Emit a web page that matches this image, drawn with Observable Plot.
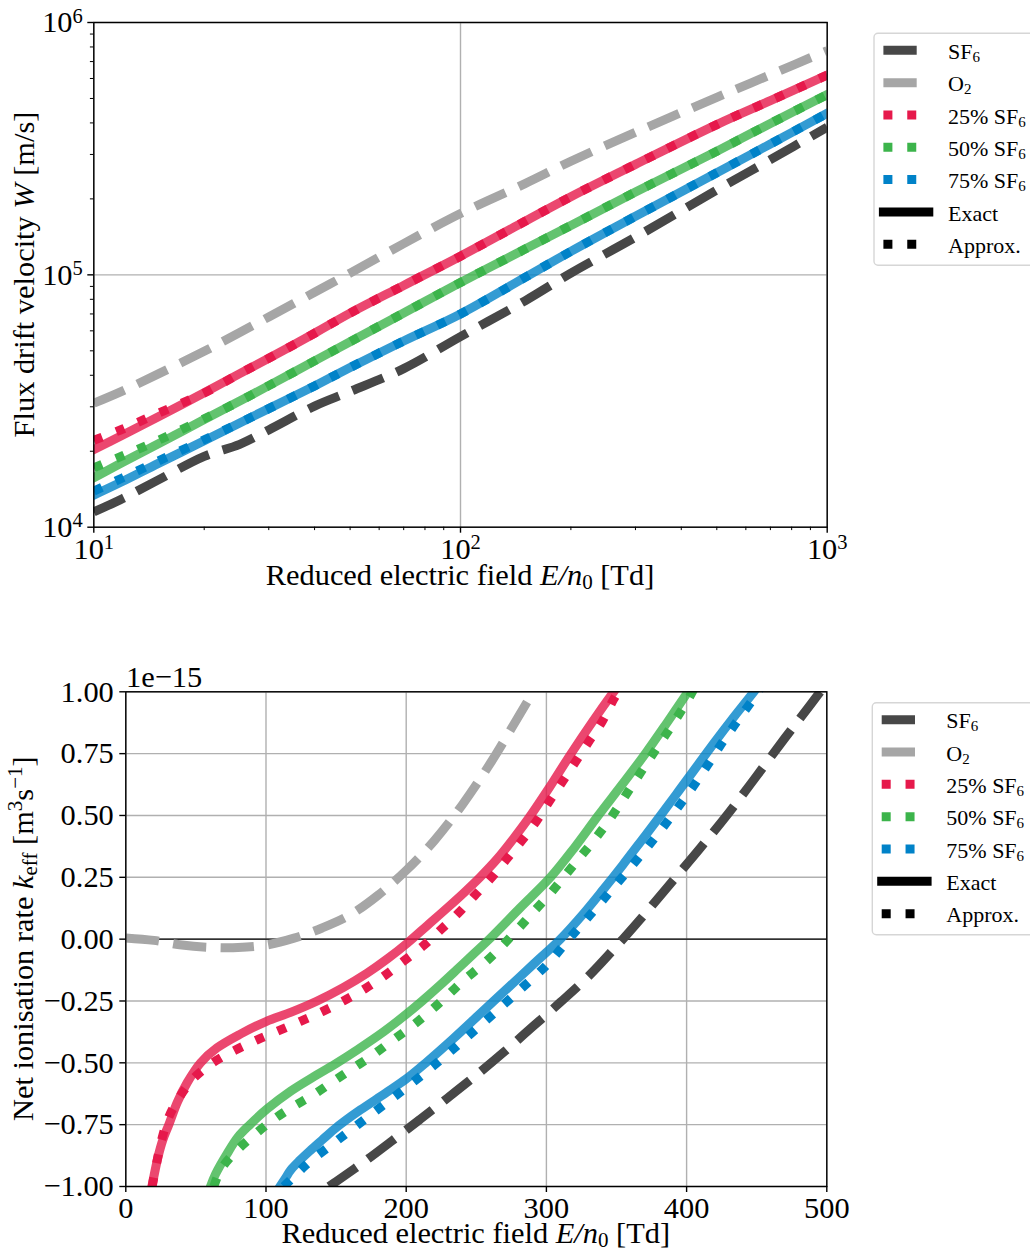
<!DOCTYPE html>
<html>
<head>
<meta charset="utf-8">
<script src="https://cdn.jsdelivr.net/npm/d3@7"></script>
<script src="https://cdn.jsdelivr.net/npm/@observablehq/plot@0.6"></script>
<style>
  html, body { margin: 0; padding: 0; background: #fff; }
  #figure { width: 1030px; height: 1250px; position: relative; overflow: hidden; background: #fff; }
  #figure svg { display: block; position: absolute; left: 0; overflow: hidden; }
  #figure text { white-space: pre; }
</style>
</head>
<body>
<div id="figure"></div>
<script>
// ---------- Flux drift velocity W [m/s] vs reduced field E/n0 [Td] ----------
const fieldTd = [10, 12, 15, 20, 25, 30, 40, 50, 70, 100, 150, 200, 300, 500, 700, 1000];
const driftSF6 = [1.15e4, 1.30e4, 1.54e4, 1.91e4, 2.13e4, 2.43e4, 3.02e4, 3.45e4, 4.25e4, 5.69e4, 7.89e4, 1.016e5, 1.41e5, 2.17e5, 2.86e5, 3.85e5];
const driftO2 = [3.10e4, 3.47e4, 4.05e4, 4.98e4, 5.91e4, 6.81e4, 8.53e4, 1.016e5, 1.33e5, 1.75e5, 2.30e5, 2.82e5, 3.67e5, 5.05e5, 6.21e5, 7.74e5];
const drift25Exact = [2.03e4, 2.32e4, 2.74e4, 3.41e4, 4.06e4, 4.67e4, 5.87e4, 7.05e4, 9.08e4, 1.186e5, 1.63e5, 2.04e5, 2.74e5, 3.94e5, 4.90e5, 6.19e5];
const drift25Approx = [2.21e4, 2.45e4, 2.83e4, 3.40e4, 4.06e4, 4.67e4, 5.87e4, 7.05e4, 9.08e4, 1.186e5, 1.63e5, 2.04e5, 2.74e5, 3.94e5, 4.90e5, 6.19e5];
const drift50Exact = [1.57e4, 1.81e4, 2.14e4, 2.67e4, 3.16e4, 3.64e4, 4.56e4, 5.43e4, 7.06e4, 9.33e4, 1.265e5, 1.57e5, 2.13e5, 3.09e5, 3.98e5, 5.18e5];
const drift50Approx = [1.72e4, 1.92e4, 2.21e4, 2.69e4, 3.16e4, 3.64e4, 4.56e4, 5.43e4, 7.06e4, 9.33e4, 1.265e5, 1.57e5, 2.13e5, 3.09e5, 3.98e5, 5.18e5];
const drift75Exact = [1.34e4, 1.52e4, 1.79e4, 2.20e4, 2.59e4, 2.95e4, 3.63e4, 4.29e4, 5.47e4, 7.00e4, 9.77e4, 1.239e5, 1.706e5, 2.54e5, 3.30e5, 4.37e5];
const drift75Approx = [1.39e4, 1.57e4, 1.83e4, 2.22e4, 2.59e4, 2.95e4, 3.63e4, 4.29e4, 5.47e4, 7.00e4, 9.77e4, 1.239e5, 1.706e5, 2.54e5, 3.30e5, 4.37e5];

const logMajorX = [10, 100, 1000];
const logMinorX = [20, 30, 40, 50, 60, 70, 80, 90, 200, 300, 400, 500, 600, 700, 800, 900];
const logMajorY = [1e4, 1e5, 1e6];
const logMinorY = [2e4, 3e4, 4e4, 5e4, 6e4, 7e4, 8e4, 9e4, 2e5, 3e5, 4e5, 5e5, 6e5, 7e5, 8e5, 9e5];

// ---------- Net ionisation rate k_eff [1e-15 m^3 s^-1] vs E/n0 [Td]: [E, k] pairs ----------
const rateSF6 = [[145, -1.0], [150, -0.98], [170, -0.9], [190, -0.815], [210, -0.728], [230, -0.64], [250, -0.55], [270, -0.455], [290, -0.355], [310, -0.255], [330, -0.15], [354.5, 0.0], [370, 0.1], [390, 0.235], [410, 0.37], [430, 0.51], [450, 0.66], [470, 0.812], [488.6, 0.95], [498, 1.02]];
const rateO2 = [[0, 0.005], [20, -0.005], [40, -0.024], [60, -0.033], [80, -0.034], [100, -0.024], [120, 0.004], [140, 0.045], [160, 0.098], [180, 0.178], [200, 0.278], [220, 0.398], [240, 0.543], [260, 0.711], [280, 0.899], [300, 1.09]];
const rate25Exact = [[18.6, -1.0], [20, -0.96], [23, -0.88], [26.5, -0.81], [30.7, -0.75], [36.7, -0.66], [43.8, -0.58], [53.3, -0.5], [65, -0.44], [82, -0.383], [100, -0.333], [118, -0.295], [136.5, -0.25], [155, -0.196], [172, -0.138], [187, -0.078], [201, -0.015], [215, 0.055], [230, 0.13], [242, 0.192], [252.6, 0.25], [265, 0.325], [277, 0.41], [287.5, 0.49], [302, 0.612], [317, 0.745], [333, 0.88], [348, 1.0], [352, 1.03]];
const rate25Approx = [[18.8, -1.0], [21.9, -0.907], [25.5, -0.813], [30.7, -0.719], [39, -0.632], [49.2, -0.558], [62.8, -0.497], [78.2, -0.448], [93.7, -0.407], [109.1, -0.37], [124.6, -0.332], [140.1, -0.293], [155.5, -0.249], [171, -0.199], [185.2, -0.145], [198.3, -0.088], [212.1, -0.027], [225, 0.04], [237.5, 0.107], [248.6, 0.175], [260.7, 0.248], [271.4, 0.322], [282.1, 0.396], [292.9, 0.477], [302.2, 0.558], [311.6, 0.638], [321, 0.719], [330.4, 0.8], [339.8, 0.88], [347.8, 0.968], [352, 1.01]];
const rate50Exact = [[60.4, -1.0], [64, -0.95], [72.3, -0.867], [80, -0.8], [88.5, -0.75], [100.9, -0.686], [117.5, -0.615], [136.5, -0.548], [150.7, -0.5], [165, -0.448], [184, -0.374], [198, -0.313], [211.4, -0.25], [224, -0.187], [236, -0.124], [248, -0.06], [259.3, 0.0], [281, 0.125], [302.9, 0.25], [320, 0.37], [337, 0.5], [354, 0.625], [370.6, 0.75], [386, 0.875], [401, 1.0], [404, 1.025]];
const rate50Approx = [[62.8, -1.0], [67.5, -0.934], [78.2, -0.86], [91.3, -0.793], [104.4, -0.733], [118.7, -0.679], [133, -0.632], [147.2, -0.578], [161.5, -0.524], [175.8, -0.47], [190, -0.41], [203.1, -0.356], [216.1, -0.296], [229.2, -0.229], [241.1, -0.166], [254.9, -0.101], [267.3, -0.034], [279.5, 0.04], [290.2, 0.107], [302.2, 0.181], [313, 0.255], [323.7, 0.329], [334.4, 0.403], [345.1, 0.484], [354.5, 0.564], [363.9, 0.645], [373.3, 0.726], [382.7, 0.806], [392.1, 0.887], [401.4, 0.972], [406, 1.02]];
const rate75Exact = [[110, -1.0], [114, -0.965], [117.5, -0.934], [124, -0.895], [131.7, -0.854], [140, -0.812], [148.4, -0.77], [157, -0.732], [167.4, -0.69], [186.4, -0.618], [200, -0.565], [214, -0.5], [234, -0.4], [253, -0.3], [272, -0.2], [291, -0.1], [310, 0.0], [326, 0.1], [340.5, 0.2], [354.5, 0.3], [368, 0.4], [381.4, 0.5], [394.5, 0.6], [407.5, 0.7], [420.5, 0.8], [434, 0.9], [448, 1.0], [452, 1.03]];
const rate75Approx = [[112.7, -1.0], [124.6, -0.934], [131, -0.9], [154, -0.8], [177, -0.7], [200, -0.6], [222, -0.5], [242.5, -0.4], [262.5, -0.3], [282, -0.2], [301, -0.1], [316, 0.0], [331.5, 0.1], [346.5, 0.2], [361.5, 0.3], [376, 0.4], [389.5, 0.5], [402.5, 0.6], [414.5, 0.7], [426, 0.8], [438.5, 0.9], [451, 1.0], [454, 1.03]];

const linTicksX = [0, 100, 200, 300, 400, 500];
const linTicksY = [-1, -0.75, -0.5, -0.25, 0, 0.25, 0.5, 0.75, 1];

// ---------- styling ----------
const FONT = "Liberation Serif";
const FS = 30.4;            // tick labels, axis labels
const COLORS = { sf6: "#474747", o2: "#a6a6a6", p25: "#e6194b", p50: "#3cb44b", p75: "#0082c8" };
const LW = 9;
const DASH = "33.3 14.4";   // "--" scaled by line width
const DOT = "9 14.85";      // ":"  scaled by line width
const GRID = { stroke: "#b0b0b0", strokeOpacity: 1, strokeWidth: 1.4 };
const CURVE = "catmull-rom";

const pairs = (xs, ys) => xs.map((x, i) => ({ x, y: ys[i] }));
const fromPairs = (arr) => arr.map(([x, y]) => ({ x, y }));

const dashed = (data, stroke) => Plot.line(data, { x: "x", y: "y", stroke, strokeWidth: LW, strokeDasharray: DASH, strokeLinecap: "butt", strokeLinejoin: "round", curve: CURVE, clip: true });
const exact = (data, stroke) => Plot.line(data, { x: "x", y: "y", stroke, strokeOpacity: 0.8, strokeWidth: LW, strokeLinecap: "square", strokeLinejoin: "round", curve: CURVE, clip: true });
const approx = (data, stroke) => Plot.line(data, { x: "x", y: "y", stroke, strokeWidth: LW, strokeDasharray: DOT, strokeLinecap: "butt", strokeLinejoin: "round", curve: CURVE, clip: true });

// text with italic / subscript / superscript runs
function richText(parent, x, y, parts, opt) {
  const t = parent.append("text")
    .attr("x", x).attr("y", y)
    .attr("font-family", FONT).attr("font-size", opt.size).attr("fill", "black")
    .attr("text-anchor", opt.anchor || "start");
  if (opt.rotate) t.attr("transform", `rotate(-90 ${x} ${y})`);
  let shift = 0;
  for (const [txt, kind = ""] of parts) {
    const s = t.append("tspan").text(txt);
    let target = 0, size = opt.size;
    if (kind.includes("sub")) { target = opt.subDy; size = opt.subSize; }
    if (kind.includes("sup")) { target = -opt.supDy; size = opt.supSize; }
    if (kind.includes("ital")) s.attr("font-style", "italic");
    s.attr("font-size", size);
    if (target !== shift) { s.attr("dy", target - shift); shift = target; }
  }
  return t;
}

const LABEL_OPT = { size: FS, subSize: 21, subDy: 4, supSize: 21, supDy: 11 };

const LEGEND_ITEMS = [
  { parts: [["SF"], ["6", "sub"]], stroke: COLORS.sf6, dash: DASH },
  { parts: [["O"], ["2", "sub"]], stroke: COLORS.o2, dash: DASH },
  { parts: [["25% SF"], ["6", "sub"]], stroke: COLORS.p25, dash: DOT },
  { parts: [["50% SF"], ["6", "sub"]], stroke: COLORS.p50, dash: DOT },
  { parts: [["75% SF"], ["6", "sub"]], stroke: COLORS.p75, dash: DOT },
  { parts: [["Exact"]], stroke: "black", dash: null },
  { parts: [["Approx."]], stroke: "black", dash: DOT }
];

function drawLegend(svg, x0, y0) {
  const g = svg.append("g").attr("transform", `translate(${x0},${y0})`);
  g.append("rect").attr("x", 0).attr("y", 0).attr("width", 200).attr("height", 232).attr("rx", 4)
    .attr("fill", "white").attr("fill-opacity", 0.8).attr("stroke", "#d6d6d6").attr("stroke-width", 1.4);
  LEGEND_ITEMS.forEach((item, i) => {
    const cy = 17 + i * 32.33;
    const line = g.append("line").attr("x1", 9.4).attr("x2", 54.8).attr("y1", cy).attr("y2", cy)
      .attr("stroke", item.stroke).attr("stroke-width", LW);
    if (item.dash) line.attr("stroke-dasharray", item.dash).attr("stroke-linecap", "butt");
    else line.attr("stroke-linecap", "square");
    richText(g, 74, cy + 8.6, item.parts, { size: 22, subSize: 15, subDy: 3, supSize: 15, supDy: 8 });
  });
}

function superscriptLogTicks(svg) {
  d3.select(svg).selectAll("text").each(function () {
    const m = /^10\^(\d+)$/.exec(this.textContent);
    if (!m) return;
    const el = d3.select(this);
    el.text("");
    el.append("tspan").text("10");
    el.append("tspan").attr("font-size", 20.5).attr("dy", -9.5).text(m[1]);
  });
}

const figure = document.getElementById("figure");

// ---------- upper panel: drift velocity (log-log) ----------
const upper = Plot.plot({
  width: 1030, height: 600,
  marginLeft: 93.3, marginRight: 203.3, marginTop: 22, marginBottom: 73.3,
  style: { fontFamily: FONT, fontSize: `${FS}px`, color: "black", background: "white" },
  x: { type: "log", domain: [10, 1000], label: null },
  y: { type: "log", domain: [1e4, 1e6], label: null },
  marks: [
    Plot.gridX(logMajorX, GRID),
    Plot.gridY(logMajorY, GRID),
    dashed(pairs(fieldTd, driftSF6), COLORS.sf6),
    dashed(pairs(fieldTd, driftO2), COLORS.o2),
    exact(pairs(fieldTd, drift25Exact), COLORS.p25),
    approx(pairs(fieldTd, drift25Approx), COLORS.p25),
    exact(pairs(fieldTd, drift50Exact), COLORS.p50),
    approx(pairs(fieldTd, drift50Approx), COLORS.p50),
    exact(pairs(fieldTd, drift75Exact), COLORS.p75),
    approx(pairs(fieldTd, drift75Approx), COLORS.p75),
    Plot.axisX(logMinorX, { tickSize: 3.4, tickFormat: () => "", strokeWidth: 1, label: null }),
    Plot.axisY(logMinorY, { tickSize: 3.4, tickFormat: () => "", strokeWidth: 1, label: null }),
    Plot.axisX(logMajorX, { tickSize: 6, tickPadding: 4, fontSize: FS, strokeWidth: 1.4, label: null, tickFormat: d => `10^${Math.round(Math.log10(d))}` }),
    Plot.axisY(logMajorY, { tickSize: 6, tickPadding: 5, fontSize: FS, strokeWidth: 1.4, label: null, tickFormat: d => `10^${Math.round(Math.log10(d))}` }),
    Plot.frame({ stroke: "black", strokeWidth: 1.4 })
  ]
});
upper.style.top = "0px";
figure.appendChild(upper);
superscriptLogTicks(upper);
{
  const s = d3.select(upper);
  richText(s, 460, 585, [["Reduced electric field "], ["E/n", "ital"], ["0", "sub"], [" [Td]"]],
    { ...LABEL_OPT, anchor: "middle" });
  richText(s, 34, 274.5, [["Flux drift velocity "], ["W", "ital"], [" [m/s]"]],
    { ...LABEL_OPT, anchor: "middle", rotate: true });
  drawLegend(s, 874, 33.3);
}

// ---------- lower panel: net ionisation rate ----------
const lower = Plot.plot({
  width: 1030, height: 650,
  marginLeft: 125.3, marginRight: 203.7, marginTop: 91.3, marginBottom: 64,
  style: { fontFamily: FONT, fontSize: `${FS}px`, color: "black", background: "white" },
  x: { domain: [0, 500], label: null },
  y: { domain: [-1, 1], label: null },
  marks: [
    Plot.gridX(linTicksX, GRID),
    Plot.gridY(linTicksY, GRID),
    Plot.ruleY([0], { stroke: "black", strokeWidth: 1.4 }),
    dashed(fromPairs(rateSF6), COLORS.sf6),
    dashed(fromPairs(rateO2), COLORS.o2),
    exact(fromPairs(rate25Exact), COLORS.p25),
    approx(fromPairs(rate25Approx), COLORS.p25),
    exact(fromPairs(rate50Exact), COLORS.p50),
    approx(fromPairs(rate50Approx), COLORS.p50),
    exact(fromPairs(rate75Exact), COLORS.p75),
    approx(fromPairs(rate75Approx), COLORS.p75),
    Plot.axisX(linTicksX, { tickSize: 6, tickPadding: 3.5, fontSize: FS, strokeWidth: 1.4, label: null, tickFormat: d => String(d) }),
    Plot.axisY(linTicksY, { tickSize: 6, tickPadding: 6, fontSize: FS, strokeWidth: 1.4, label: null, tickFormat: d => d.toFixed(2).replace("-", "\u2212") }),
    Plot.frame({ stroke: "black", strokeWidth: 1.4 })
  ]
});
lower.style.top = "600px";
figure.appendChild(lower);
{
  const s = d3.select(lower);
  s.append("text").attr("x", 126).attr("y", 86.7).attr("text-anchor", "start")
    .attr("font-family", FONT).attr("font-size", FS).attr("fill", "black").text("1e\u221215");
  richText(s, 475.8, 642.5, [["Reduced electric field "], ["E/n", "ital"], ["0", "sub"], [" [Td]"]],
    { ...LABEL_OPT, anchor: "middle" });
  richText(s, 33.5, 338.7, [["Net ionisation rate "], ["k", "ital"], ["eff", "sub"], [" [m"], ["3", "sup"], ["s"], ["\u22121", "sup"], ["]"]],
    { ...LABEL_OPT, anchor: "middle", rotate: true });
  drawLegend(s, 872.3, 102.7);
}
</script>
</body>
</html>
